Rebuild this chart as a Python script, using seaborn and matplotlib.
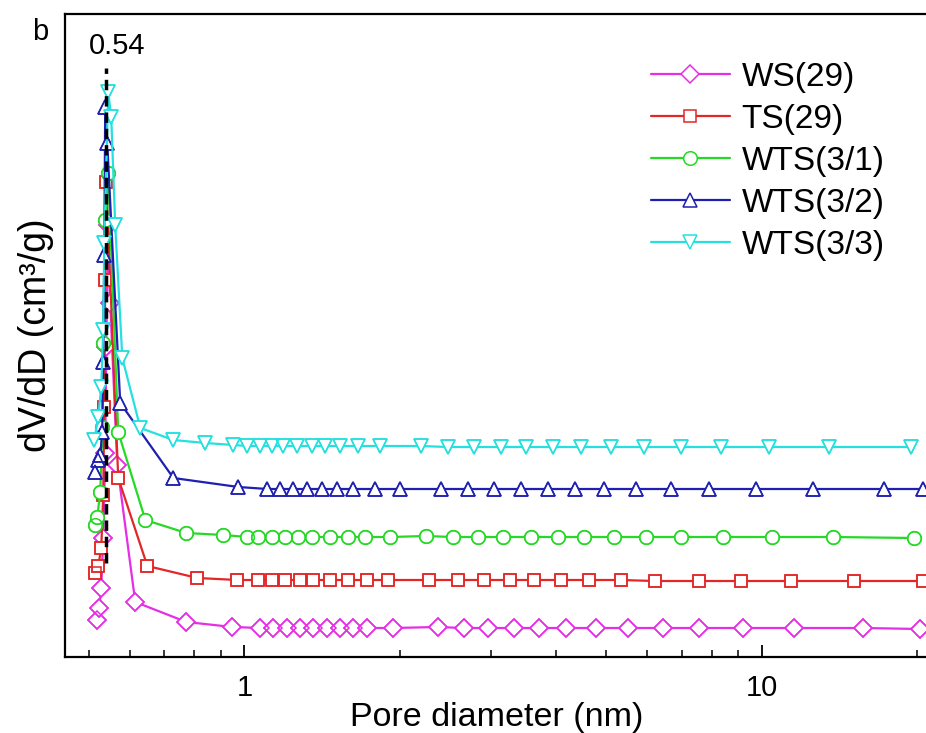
import matplotlib
matplotlib.use("Agg")
import matplotlib.pyplot as plt
import seaborn as sns
import pandas as pd
from matplotlib.lines import Line2D

sns.set_theme(style="white")
plt.rcParams['font.family'] = ['Liberation Sans', 'DejaVu Sans']
plt.rcParams['text.color'] = 'black'
plt.rcParams['axes.labelcolor'] = 'black'
plt.rcParams['xtick.color'] = 'black'
plt.rcParams['ytick.color'] = 'black'

# ---------------- data ----------------
ws_x = [0.5195, 0.5241, 0.5288, 0.5335, 0.5382, 0.5407, 0.5455, 0.5504, 0.5678, 0.6152,
        0.7724, 0.9480, 1.0737, 1.1379, 1.2111, 1.2831, 1.3598, 1.4470, 1.5333, 1.6246,
        1.7295, 1.9418, 2.3622, 2.6523, 2.9512, 3.3140, 3.7049, 4.1783, 4.7753, 5.5072,
        6.4348, 7.5514, 9.1866, 11.532, 15.684, 20.215]
ws_y = [0.037, 0.049, 0.069, 0.119, 0.204, 0.310, 0.432, 0.354, 0.192, 0.055,
        0.035, 0.030, 0.029, 0.029, 0.029, 0.029, 0.029, 0.029, 0.029, 0.029,
        0.029, 0.029, 0.030, 0.029, 0.029, 0.029, 0.029, 0.029, 0.029, 0.029,
        0.029, 0.029, 0.029, 0.029, 0.029, 0.028]

ts_x = [0.5149, 0.5218, 0.5288, 0.5335, 0.5359, 0.5382, 0.5407, 0.5703, 0.6493, 0.8113,
        0.9694, 1.0643, 1.1329, 1.2003, 1.2831, 1.3598, 1.4665, 1.5890, 1.7295, 1.8990,
        2.2695, 2.5826, 2.8993, 3.2556, 3.6231, 4.0862, 4.6291, 5.3384, 6.2087, 7.5514,
        9.1066, 11.379, 15.064, 20.53]
ts_y = [0.084, 0.091, 0.109, 0.162, 0.250, 0.377, 0.475, 0.179, 0.091, 0.079,
        0.077, 0.077, 0.077, 0.077, 0.077, 0.077, 0.077, 0.077, 0.077, 0.077,
        0.077, 0.077, 0.077, 0.077, 0.077, 0.077, 0.077, 0.077, 0.076, 0.076,
        0.076, 0.076, 0.076, 0.076]

w31_x = [0.5149, 0.5195, 0.5265, 0.5311, 0.5335, 0.5382, 0.5455, 0.5703, 0.6435, 0.7724,
         0.9108, 1.0134, 1.0643, 1.1329, 1.2003, 1.2717, 1.3536, 1.4665, 1.5890, 1.7140,
         1.9160, 2.2393, 2.5256, 2.8231, 3.1552, 3.5751, 4.0320, 4.5270, 5.1742, 5.9663,
         6.9705, 8.4062, 10.455, 13.720, 19.681]
w31_y = [0.132, 0.140, 0.165, 0.230, 0.314, 0.437, 0.484, 0.225, 0.137, 0.124,
         0.122, 0.120, 0.120, 0.120, 0.120, 0.120, 0.120, 0.120, 0.120, 0.120,
         0.120, 0.121, 0.120, 0.120, 0.120, 0.120, 0.120, 0.120, 0.120, 0.120,
         0.120, 0.120, 0.120, 0.120, 0.119]

w32_x = [0.5149, 0.5218, 0.5265, 0.5311, 0.5335, 0.5359, 0.5382, 0.5431, 0.5754, 0.7290,
         0.9736, 1.1079, 1.1737, 1.2437, 1.3239, 1.4152, 1.5130, 1.6246, 1.7921, 2.0032,
         2.3939, 2.7000, 3.0312, 3.4189, 3.8565, 4.3490, 4.9488, 5.7071, 6.6681, 7.8995,
         9.7363, 12.549, 17.219, 20.53]
w32_y = [0.185, 0.197, 0.202, 0.225, 0.295, 0.402, 0.550, 0.514, 0.254, 0.179,
         0.170, 0.168, 0.168, 0.168, 0.168, 0.168, 0.168, 0.168, 0.168, 0.168,
         0.168, 0.168, 0.168, 0.168, 0.168, 0.168, 0.168, 0.168, 0.168, 0.168,
         0.168, 0.168, 0.168, 0.168]

w33_x = [0.5127, 0.5218, 0.5288, 0.5335, 0.5359, 0.5455, 0.5528, 0.5627, 0.5808, 0.6293,
         0.7290, 0.8407, 0.9522, 1.0134, 1.0737, 1.1329, 1.1895, 1.2661, 1.3536, 1.4343,
         1.5333, 1.6614, 1.8326, 2.1900, 2.4698, 2.7731, 3.1274, 3.4962, 3.9429, 4.4668,
         5.1055, 5.9142, 6.9705, 8.3311, 10.316, 13.478, 19.422]
w33_y = [0.217, 0.240, 0.270, 0.327, 0.414, 0.565, 0.540, 0.432, 0.299, 0.229,
         0.217, 0.214, 0.212, 0.211, 0.211, 0.211, 0.211, 0.211, 0.211, 0.211,
         0.211, 0.211, 0.211, 0.211, 0.210, 0.210, 0.210, 0.210, 0.210, 0.210,
         0.210, 0.210, 0.210, 0.210, 0.210, 0.210, 0.210]

labels = ["WS(29)", "TS(29)", "WTS(3/1)", "WTS(3/2)", "WTS(3/3)"]
colors = ["#E62EE6", "#E32626", "#26D926", "#1F1FB0", "#26E0E0"]
markers = ["D", "s", "o", "^", "v"]
msizes = [8.8, 8.6, 9.8, 10.5, 10.5]

peak_x = 0.54
peak_label = "0.54"
dash_y = [0.094, 0.589]

x_ticks = [1, 10]
x_ticklabels = ["1", "10"]

series = [(ws_x, ws_y), (ts_x, ts_y), (w31_x, w31_y), (w32_x, w32_y), (w33_x, w33_y)]

# ---------------- figure ----------------
fig = plt.figure(figsize=(9.26, 7.33), dpi=100)
ax = fig.add_axes([65/926, 1-657/733, 1-65/926 + 0.002, (657-14)/733])

handles = []
for i, ((xs, ys), lab, c, m, ms) in enumerate(zip(series, labels, colors, markers, msizes)):
    df = pd.DataFrame({"x": xs, "y": ys})
    z = 3 + i * 0.1
    sns.lineplot(data=df, x="x", y="y", ax=ax, color=c, linewidth=1.6,
                 marker=m, markersize=ms, markerfacecolor="white",
                 markeredgecolor=c, markeredgewidth=1.1,
                 estimator=None, sort=False, zorder=z, legend=False)
    # hollow outlines on top so overlapping markers show full outlines
    sns.lineplot(data=df, x="x", y="y", ax=ax, color=c, linewidth=0,
                 marker=m, markersize=ms, markerfacecolor="none",
                 markeredgecolor=c, markeredgewidth=1.1,
                 estimator=None, sort=False, zorder=z + 0.05, legend=False)
    handles.append(Line2D([], [], color=c, linewidth=1.6, marker=m, markersize=ms,
                          markerfacecolor="white", markeredgecolor=c,
                          markeredgewidth=1.1, label=lab))

# dashed marker line at the peak
ax.plot([peak_x, peak_x], dash_y, color="black", linewidth=2.5,
        linestyle=(0, (3.0, 1.7)), zorder=10)
ax.annotate(peak_label, xy=(peak_x, dash_y[1]), xytext=(8, 6),
            textcoords="offset points", ha="center", va="bottom", fontsize=21)

ax.set_xscale("log")
ax.set_xlim(0.45, 20.95)
ax.set_ylim(0, 0.643)
ax.set_xticks(x_ticks)
ax.set_xticklabels(x_ticklabels)
ax.set_yticks([])

ax.tick_params(axis="x", which="major", direction="in", length=9, width=1.3,
               labelsize=21, pad=12, bottom=True, top=False, colors="black")
ax.tick_params(axis="x", which="minor", direction="in", length=5, width=1.1,
               bottom=True, top=False)
ax.xaxis.set_minor_formatter(plt.NullFormatter())

for s in ["left", "bottom", "top"]:
    ax.spines[s].set_color("black")
    ax.spines[s].set_linewidth(1.6)
ax.spines["right"].set_visible(False)

ax.set_xlabel("Pore diameter (nm)", fontsize=24.5, labelpad=0)
ax.set_ylabel("dV/dD (cm³/g)", fontsize=27, labelpad=8)

leg = ax.legend(handles=handles, loc="upper left", bbox_to_anchor=(0.664, 0.946),
                frameon=False, fontsize=24, handlelength=2.35, handletextpad=0.36,
                labelspacing=0.33, borderaxespad=0)

fig.text(40/926, 1-32/733, "b", fontsize=21, ha="center", va="center")

fig.savefig("out.png", dpi=100)
